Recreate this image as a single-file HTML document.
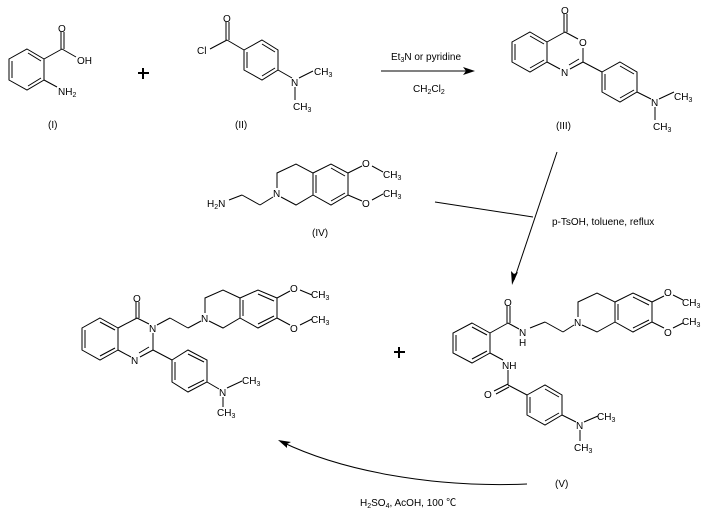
<!DOCTYPE html>
<html><head><meta charset="utf-8"><style>
html,body{margin:0;padding:0;background:#fff;}
svg{display:block;}
text{font-family:"Liberation Sans","Noto Sans CJK SC",sans-serif;font-size:10px;fill:#000;}
.s{font-size:7px;}
</style></head><body>
<svg width="706" height="511" viewBox="0 0 706 511" xmlns="http://www.w3.org/2000/svg">
<g fill="none" stroke="#000" stroke-width="1">
<!-- Compound I -->
<polygon points="27,49 44,59 44,80 27,90 9,80 9,59"/>
<line x1="12" y1="61" x2="12" y2="78"/><line x1="28" y1="53" x2="41" y2="61"/><line x1="28" y1="86" x2="41" y2="78"/>
<line x1="44" y1="59" x2="62" y2="49"/><line x1="61" y1="49" x2="61" y2="32"/><line x1="64" y1="49" x2="64" y2="32"/>
<line x1="62" y1="49" x2="76" y2="57"/><line x1="44" y1="80" x2="57" y2="87"/>
<!-- Compound II -->
<polygon points="262,40 278,50 278,70 262,80 244,70 244,50"/>
<line x1="247" y1="52" x2="247" y2="68"/><line x1="262" y1="44" x2="275" y2="52"/><line x1="262" y1="76" x2="275" y2="68"/>
<line x1="244" y1="50" x2="227" y2="40"/><line x1="226" y1="40" x2="226" y2="22"/><line x1="229" y1="40" x2="229" y2="22"/>
<line x1="227" y1="40" x2="210" y2="49"/>
<line x1="278" y1="70" x2="292" y2="78"/><line x1="299" y1="78" x2="313" y2="71"/><line x1="295" y1="87" x2="295" y2="100"/>
<!-- Arrow 1 -->
<line x1="381" y1="71" x2="470" y2="71"/>
<!-- Compound III -->
<polygon points="530,32 547,42 547,62 530,72 512,62 512,42"/>
<line x1="515" y1="44" x2="515" y2="60"/><line x1="530" y1="36" x2="544" y2="44"/><line x1="530" y1="68" x2="544" y2="60"/>
<line x1="547" y1="42" x2="565" y2="32"/><line x1="565" y1="32" x2="578" y2="39"/>
<line x1="564" y1="32" x2="564" y2="14"/><line x1="567" y1="32" x2="567" y2="14"/>
<line x1="583" y1="48" x2="583" y2="62"/><line x1="583" y1="62" x2="570" y2="69"/><line x1="579" y1="59" x2="569" y2="65"/>
<line x1="547" y1="62" x2="560" y2="69"/>
<line x1="583" y1="62" x2="602" y2="72"/>
<polygon points="620,62 637,72 637,92 620,102 602,92 602,72"/>
<line x1="605" y1="74" x2="605" y2="90"/><line x1="620" y1="66" x2="634" y2="74"/><line x1="620" y1="98" x2="634" y2="90"/>
<line x1="637" y1="92" x2="651" y2="99"/><line x1="659" y1="99" x2="674" y2="92"/><line x1="655" y1="107" x2="655" y2="120"/>
<!-- Compound IV -->
<line x1="229" y1="200" x2="242" y2="195"/><line x1="242" y1="195" x2="260" y2="205"/><line x1="260" y1="205" x2="273" y2="197"/>
<polyline points="277,188 277,173 296,164 313,173 313,195 296,205 281,197"/>
<polygon points="313,173 331,164 348,173 348,195 331,205 313,195"/>
<line x1="316" y1="175" x2="316" y2="193"/><line x1="331" y1="168" x2="345" y2="176"/><line x1="331" y1="201" x2="345" y2="193"/>
<line x1="348" y1="173" x2="362" y2="166"/><line x1="372" y1="166" x2="383" y2="172"/>
<line x1="348" y1="195" x2="362" y2="201"/><line x1="372" y1="200" x2="383" y2="194"/>
<!-- Converging arrow -->
<line x1="557" y1="152" x2="514" y2="280"/>
<line x1="435" y1="202" x2="533" y2="217"/>
<!-- Compound V -->
<polygon points="472,323 490,333 490,353 472,363 453,353 453,333"/>
<line x1="456" y1="335" x2="456" y2="351"/><line x1="472" y1="327" x2="487" y2="335"/><line x1="472" y1="359" x2="487" y2="351"/>
<line x1="490" y1="333" x2="508" y2="323"/><line x1="507" y1="323" x2="507" y2="306"/><line x1="510" y1="323" x2="510" y2="306"/>
<line x1="508" y1="323" x2="519" y2="329"/><line x1="530" y1="328" x2="545" y2="322"/><line x1="545" y1="322" x2="563" y2="332"/><line x1="563" y1="332" x2="574" y2="325"/>
<polyline points="578,317 578,302 597,293 615,302 615,322 597,332 582,325"/>
<polygon points="615,302 633,293 652,302 652,322 633,332 615,322"/>
<line x1="618" y1="304" x2="618" y2="320"/><line x1="633" y1="297" x2="649" y2="305"/><line x1="633" y1="328" x2="649" y2="320"/>
<line x1="652" y1="302" x2="664" y2="296"/><line x1="673" y1="295" x2="683" y2="300"/>
<line x1="652" y1="322" x2="664" y2="328"/><line x1="673" y1="328" x2="683" y2="323"/>
<line x1="490" y1="353" x2="503" y2="360"/><line x1="508" y1="370" x2="508" y2="385"/>
<line x1="508" y1="384" x2="494" y2="391"/><line x1="509" y1="387" x2="496" y2="394"/>
<line x1="508" y1="385" x2="527" y2="395"/>
<polygon points="527,395 545,385 562,395 562,415 545,425 527,415"/>
<line x1="530" y1="397" x2="530" y2="413"/><line x1="545" y1="389" x2="559" y2="397"/><line x1="545" y1="421" x2="559" y2="413"/>
<line x1="562" y1="415" x2="576" y2="422"/><line x1="584" y1="422" x2="598" y2="416"/><line x1="580" y1="430" x2="580" y2="441"/>
<!-- Final product -->
<polygon points="100,318 118,328 118,350 100,360 82,350 82,328"/>
<line x1="85" y1="330" x2="85" y2="348"/><line x1="100" y1="322" x2="115" y2="330"/><line x1="100" y1="356" x2="115" y2="348"/>
<line x1="118" y1="328" x2="137" y2="318"/><line x1="136" y1="318" x2="136" y2="302"/><line x1="139" y1="318" x2="139" y2="302"/>
<line x1="137" y1="318" x2="149" y2="324"/><line x1="153" y1="333" x2="153" y2="350"/>
<line x1="153" y1="350" x2="140" y2="357"/><line x1="149" y1="347" x2="139" y2="353"/>
<line x1="118" y1="350" x2="131" y2="357"/>
<line x1="157" y1="325" x2="170" y2="318"/><line x1="170" y1="318" x2="188" y2="328"/><line x1="188" y1="328" x2="201" y2="321"/>
<polyline points="205,313 205,298 223,290 240,298 240,318 223,328 209,321"/>
<polygon points="240,298 258,290 277,298 277,318 258,328 240,318"/>
<line x1="243" y1="300" x2="243" y2="316"/><line x1="258" y1="294" x2="274" y2="301"/><line x1="258" y1="324" x2="274" y2="316"/>
<line x1="277" y1="298" x2="290" y2="291"/><line x1="300" y1="290" x2="312" y2="295"/>
<line x1="277" y1="318" x2="290" y2="325"/><line x1="300" y1="325" x2="312" y2="319"/>
<line x1="153" y1="350" x2="172" y2="360"/>
<polygon points="172,360 188,350 207,360 207,382 188,392 172,382"/>
<line x1="175" y1="362" x2="175" y2="380"/><line x1="188" y1="354" x2="204" y2="362"/><line x1="188" y1="388" x2="204" y2="380"/>
<line x1="207" y1="382" x2="219" y2="389"/><line x1="227" y1="388" x2="242" y2="381"/><line x1="223" y1="397" x2="223" y2="407"/>
<!-- Bottom arrow -->
<path d="M527,484 C430,488 340,470 282,442"/>
</g>
<g fill="#000">
<polygon points="475,71 463,67 466,71 463,75"/>
<polygon points="512,285 511,271 514,274 518,272"/>
<polygon points="278,440 291,442 287,444 287,448"/>
<!-- plus signs -->
<rect x="138" y="72" width="11" height="2"/><rect x="142" y="68" width="2" height="11"/>
<rect x="394" y="351" width="11" height="2"/><rect x="398" y="347" width="2" height="11"/>
</g>
<!-- Text -->
<text x="58" y="32">O</text><text x="77" y="64">OH</text><text x="58" y="95">NH<tspan class="s" dy="2">2</tspan></text>
<text x="48" y="128">(I)</text>
<text x="223" y="22">O</text><text x="197" y="54">Cl</text><text x="291" y="86">N</text>
<text x="314" y="75">CH<tspan class="s" dy="2">3</tspan></text><text x="293" y="110">CH<tspan class="s" dy="2">3</tspan></text>
<text x="235" y="128">(II)</text>
<text x="391" y="60">Et<tspan class="s" dy="2">3</tspan><tspan dy="-2">N or pyridine</tspan></text>
<text x="413" y="92">CH<tspan class="s" dy="2">2</tspan><tspan dy="-2">Cl</tspan><tspan class="s" dy="2">2</tspan></text>
<text x="561" y="14">O</text><text x="579" y="46">O</text><text x="561" y="76">N</text>
<text x="651" y="106">N</text><text x="674" y="100">CH<tspan class="s" dy="2">3</tspan></text><text x="653" y="130">CH<tspan class="s" dy="2">3</tspan></text>
<text x="556" y="129">(III)</text>
<text x="207" y="207">H<tspan class="s" dy="2">2</tspan><tspan dy="-2">N</tspan></text><text x="273" y="197">N</text>
<text x="362" y="167">O</text><text x="383" y="178">CH<tspan class="s" dy="2">3</tspan></text>
<text x="362" y="207">O</text><text x="383" y="197">CH<tspan class="s" dy="2">3</tspan></text>
<text x="312" y="236">(IV)</text>
<text x="552" y="225">p-TsOH, toluene, reflux</text>
<text x="504" y="306">O</text><text x="519" y="336">N</text><text x="519" y="346">H</text><text x="574" y="326">N</text>
<text x="664" y="296">O</text><text x="682" y="306">CH<tspan class="s" dy="2">3</tspan></text>
<text x="664" y="336">O</text><text x="682" y="325">CH<tspan class="s" dy="2">3</tspan></text>
<text x="502" y="369">NH</text><text x="484" y="398">O</text>
<text x="576" y="429">N</text><text x="597" y="420">CH<tspan class="s" dy="2">3</tspan></text><text x="574" y="451">CH<tspan class="s" dy="2">3</tspan></text>
<text x="555" y="487">(V)</text>
<text x="133" y="302">O</text><text x="149" y="332">N</text><text x="131" y="364">N</text><text x="201" y="322">N</text>
<text x="290" y="292">O</text><text x="311" y="298">CH<tspan class="s" dy="2">3</tspan></text>
<text x="290" y="332">O</text><text x="311" y="323">CH<tspan class="s" dy="2">3</tspan></text>
<text x="219" y="396">N</text><text x="242" y="384">CH<tspan class="s" dy="2">3</tspan></text><text x="217" y="416">CH<tspan class="s" dy="2">3</tspan></text>
<text x="360" y="506">H<tspan class="s" dy="2">2</tspan><tspan dy="-2">SO</tspan><tspan class="s" dy="2">4</tspan><tspan dy="-2">, AcOH, 100 </tspan>℃</text>
</svg>
</body></html>
